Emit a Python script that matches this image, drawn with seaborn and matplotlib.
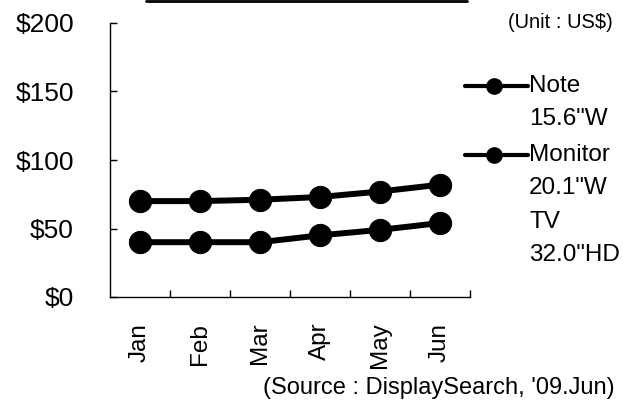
import numpy as np
import pandas as pd
import matplotlib
matplotlib.use("Agg")
import matplotlib.pyplot as plt
from matplotlib.lines import Line2D
import seaborn as sns

## Data (US$)
months = ["Jan", "Feb", "Mar", "Apr", "May", "Jun"]
note = [40, 40, 40, 45, 49, 54]
monitor = [70, 70, 71, 73, 77, 82]
yticks = [0, 50, 100, 150, 200]
labels = [("Note", "15.6\"W"), ("Monitor", "20.1\"W"), ("TV", "32.0\"HD")]

sns.set_style("white")
plt.rcParams["font.family"] = ["Liberation Sans", "DejaVu Sans"]
plt.rcParams["text.color"] = "black"
plt.rcParams["xtick.color"] = "black"
plt.rcParams["ytick.color"] = "black"

W, H = 623, 400
fig = plt.figure(figsize=(W / 100, H / 100), dpi=100)
ax = fig.add_axes([110 / W, 1 - 297 / H, 360 / W, 274 / H])

pos = np.arange(len(months))
for vals in [note, monitor]:
    sns.lineplot(x=pos, y=vals, ax=ax, color="black", lw=4.3, marker="o",
                 markersize=16, markeredgecolor="black", sort=False)

ax.set_xlim(-0.5, 5.5)
ax.set_ylim(0, 200)
ax.set_yticks(yticks)
ax.set_yticklabels(["$%d" % v for v in yticks], fontsize=19)
ax.set_xticks(pos)
ax.set_xticklabels(months, rotation=90, fontsize=17.5)
ax.set_xticks(np.arange(0.5, 5.6, 1), minor=True)
ax.tick_params(axis="x", which="major", bottom=False, pad=15)
ax.tick_params(axis="x", which="minor", bottom=True, direction="in", length=5, width=1)
ax.tick_params(axis="y", which="major", left=True, direction="in", length=5, width=1, pad=26)
for s in ["top", "right"]:
    ax.spines[s].set_visible(False)
for s in ["left", "bottom"]:
    ax.spines[s].set_color("black")
    ax.spines[s].set_linewidth(1)
ax.set_xlabel("")
ax.set_ylabel("")

## Legend, drawn by hand so the handle sits on the first line of each label
rows = [86, 155, 222]
for i, (a, b) in enumerate(labels):
    y0 = 1 - rows[i] / H
    y1 = 1 - (rows[i] + 33) / H
    if i < 2:
        fig.add_artist(Line2D([465 / W, 528 / W], [y0, y0], color="black", lw=3))
        fig.add_artist(Line2D([494 / W], [y0], color="black", marker="o", markersize=11))
    fig.text(529 / W, y0, a, fontsize=17.5, ha="left", va="center")
    fig.text(529 / W, y1, b, fontsize=17.5, ha="left", va="center")

fig.text(613 / W, 1 - 22 / H, "(Unit : US$)", fontsize=14.5, ha="right", va="center")
fig.text(615 / W, 1 - 388 / H, "(Source : DisplaySearch, '09.Jun)", fontsize=17, ha="right", va="center")
fig.add_artist(Line2D([146 / W, 467 / W], [0.997, 0.997], color="black", lw=2))

fig.savefig("out.png", dpi=100)
